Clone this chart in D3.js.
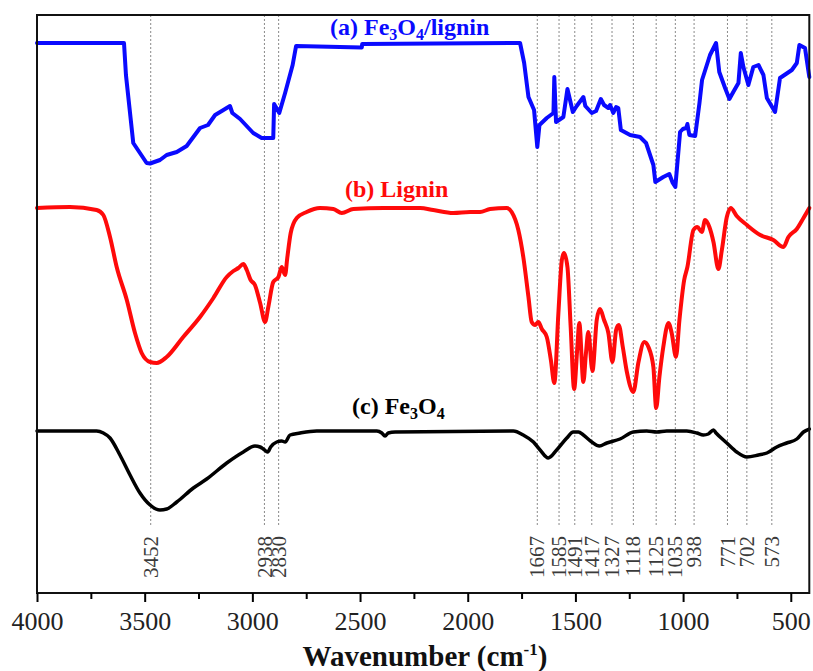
<!DOCTYPE html>
<html>
<head>
<meta charset="utf-8">
<script src="https://cdnjs.cloudflare.com/ajax/libs/d3/7.8.5/d3.min.js"></script>
<style>
  body { margin: 0; background: #fff; }
  text { font-family: "Liberation Serif", "Times New Roman", serif; }
</style>
</head>
<body>
<div id="FTIRChart"></div>
<script>

 // wavenumber (cm-1) of each read point, and transmittance in arbitrary units (offset per curve)
 var waveA = [4000, 3596, 3587, 3553, 3491, 3475, 3429, 3398, 3351, 3305, 3243, 3206, 3173, 3142, 3104, 3093, 3057, 2996, 2957, 2903,
     2899, 2875, 2848, 2813, 2797, 2492, 2490, 1757, 1738, 1718, 1692, 1677, 1667, 1633, 1602, 1598, 1590, 1556, 1537, 1512,
     1494, 1463, 1454, 1424, 1404, 1382, 1367, 1347, 1339, 1324, 1311, 1301, 1289, 1246, 1200, 1172, 1138, 1129, 1092, 1064,
     1048, 1036, 1014, 1001, 986, 980, 971, 944, 924, 912, 875, 847, 832, 805, 785, 767, 743, 732, 720, 697,
     674, 650, 627, 611, 573, 550, 495, 472, 460, 434, 414];
 var transA = [550, 550, 518, 450, 430, 429.5, 433, 438, 441, 447, 465, 468, 478, 482, 487, 480, 474, 460, 455, 455,
     489, 480, 500, 528, 547, 545.5, 549, 550, 530, 496, 483, 446, 468, 475, 480, 516, 471, 476, 504, 481,
     487, 496, 487, 480, 482, 494, 488, 485, 488, 480, 486, 485, 463, 458, 456, 450, 428, 411, 416, 419,
     410, 406, 461, 464, 465, 469, 458, 457, 490, 513, 538, 550, 521, 505, 494, 501, 510, 540, 526, 508,
     526, 528, 518, 495, 481, 515, 523, 530, 548, 545, 516];

 var waveB = [4000, 3847, 3723, 3692, 3661, 3630, 3583, 3545, 3514, 3475, 3444, 3398, 3321, 3243, 3181, 3119, 3088, 3065, 3042, 3026,
     3008, 2988, 2964, 2941, 2926, 2903, 2879, 2864, 2848, 2838, 2822, 2794, 2748, 2686, 2624, 2585, 2531, 2392, 2221, 2160,
     2067, 1989, 1943, 1896, 1819, 1796, 1765, 1742, 1718, 1703, 1687, 1672, 1656, 1633, 1614, 1598, 1579, 1563, 1553, 1537,
     1522, 1506, 1491, 1482, 1463, 1451, 1440, 1421, 1401, 1386, 1367, 1347, 1328, 1311, 1299, 1280, 1261, 1231, 1208, 1180,
     1161, 1138, 1125, 1110, 1092, 1068, 1053, 1033, 1017, 995, 980, 952, 934, 913, 898, 878, 859, 836, 820, 797,
     779, 751, 704, 642, 581, 534, 511, 472, 441, 414];
 var transB = [385, 386, 383, 378, 356, 326, 293, 260, 240, 231, 230, 236, 256, 276, 295, 316, 322, 325, 329, 323,
     313, 308, 290, 271, 286, 311, 316, 326, 318, 335, 360, 375, 381, 385, 384, 380, 384, 385, 385, 383,
     380, 381, 381, 384, 385, 381, 363, 336, 296, 271, 268, 271, 264, 256, 233, 210, 280, 333, 340, 326,
     266, 204, 246, 270, 211, 240, 261, 222, 273, 284, 273, 260, 231, 263, 268, 246, 221, 201, 230, 251,
     246, 226, 185, 216, 246, 270, 260, 236, 273, 313, 326, 363, 366, 361, 373, 366, 351, 324, 343, 376,
     385, 377, 368, 358, 353, 346, 356, 364, 375, 385];

 var waveC = [4000, 3723, 3692, 3661, 3615, 3568, 3522, 3475, 3429, 3398, 3351, 3274, 3212, 3119, 3042, 2988, 2964, 2949, 2929, 2915,
     2887, 2864, 2848, 2825, 2779, 2701, 2422, 2399, 2384, 2369, 2337, 1788, 1742, 1695, 1664, 1626, 1587, 1540, 1510, 1486,
     1463, 1424, 1389, 1354, 1293, 1231, 1169, 1122, 1076, 983, 936, 906, 883, 859, 847, 797, 751, 704, 650, 611,
     565, 519, 472, 441, 414];
 var transC = [162, 162, 160, 155, 138, 118, 100, 88, 83, 84, 91, 105, 114, 130, 141, 147, 146, 144, 141, 146,
     151, 152, 151, 158, 160, 162, 162, 160, 157, 160, 161, 162, 158, 151, 143, 135, 143, 155, 161, 161,
     158, 151, 147, 150, 154, 161, 162, 161, 162, 162, 160, 158, 159, 163, 160, 150, 141, 136, 138, 140,
     146, 150, 154, 161, 164];

 // marked bands: where the dotted line sits, and the number printed under it
 var bandPos = [3472, 2944, 2878, 1677, 1576, 1503, 1424, 1330, 1231, 1125, 1036, 949, 794, 704, 588];
 var bandLabels = ["3452", "2938", "2830", "1667", "1585", "1491", "1417", "1327", "1118", "1125", "1035", "938", "771", "702", "573"];

 var majorTicks = [4000, 3500, 3000, 2500, 2000, 1500, 1000, 500];
 var minorTicks = [3750, 3250, 2750, 2250, 1750, 1250, 750];


 function zip(w, t) {
     return w.map(function(d, i) { return { w: d, t: t[i] }; });
 }

 var series = [
     { name: "a", data: zip(waveA, transA), colour: "#0a0aff", width: 4, curve: d3.curveLinear },
     { name: "b", data: zip(waveB, transB), colour: "#ff0a0a", width: 4, curve: d3.curveMonotoneX },
     { name: "c", data: zip(waveC, transC), colour: "#000000", width: 3.5, curve: d3.curveMonotoneX }
 ];


 var width = 813,
     height = 671,
     margin = { top: 15, right: 3.7, bottom: 78, left: 37 };

 var innerW = width - margin.left - margin.right,
     innerH = height - margin.top - margin.bottom;

 // ===========================================================================================
 // scales
 var x = d3.scaleLinear().domain([4000, 414]).range([0, innerW]);
 var y = d3.scaleLinear().domain([0, 578]).range([innerH, 0]);
 // ===========================================================================================

 var svg = d3.select('#FTIRChart').append('svg')
     .attr('width', width)
     .attr('height', height)
     .append('g')
     .attr('transform', 'translate(' + margin.left + ',' + margin.top + ')');

 // ===========================================================================================
 // dotted band lines and their rotated numbers
 svg.append('g').attr('class', 'bands')
     .selectAll('line')
     .data(bandPos)
     .enter().append('line')
     .attr('x1', function(d) { return x(d); })
     .attr('x2', function(d) { return x(d); })
     .attr('y1', 0)
     .attr('y2', 511)
     .attr('stroke', '#8a8a8a')
     .attr('stroke-width', 1)
     .attr('stroke-dasharray', '2,2');

 svg.append('g').attr('class', 'bandLabels')
     .selectAll('text')
     .data(bandPos)
     .enter().append('text')
     .attr('transform', function(d) { return 'translate(' + x(d) + ',521) rotate(-90)'; })
     .attr('dy', '0.34em')
     .style('text-anchor', 'end')
     .style('font-size', '21px')
     .style('fill', '#3a3a3a')
     .text(function(d, i) { return bandLabels[i]; });
 // ===========================================================================================

 // ===========================================================================================
 // spectra
 svg.append('g').attr('class', 'lines')
     .selectAll('path')
     .data(series)
     .enter().append('path')
     .attr('fill', 'none')
     .attr('stroke', function(d) { return d.colour; })
     .attr('stroke-width', function(d) { return d.width; })
     .attr('stroke-linejoin', 'round')
     .attr('stroke-linecap', 'round')
     .attr('d', function(d) {
         return d3.line()
             .x(function(p) { return x(p.w); })
             .y(function(p) { return y(p.t); })
             .curve(d.curve)(d.data);
     });
 // ===========================================================================================

 // ===========================================================================================
 // frame and x axis
 svg.append('rect')
     .attr('width', innerW)
     .attr('height', innerH)
     .attr('fill', 'none')
     .attr('stroke', '#111')
     .attr('stroke-width', 2);

 var axis = svg.append('g')
     .attr('transform', 'translate(0,' + innerH + ')')
     .call(d3.axisBottom(x).tickValues(majorTicks).tickSize(9).tickPadding(10).tickFormat(d3.format('d')));
 axis.select('.domain').remove();
 axis.selectAll('line').attr('stroke-width', 2);
 axis.selectAll('text').style('font-size', '26px').style('font-family', '"Liberation Serif", serif').style('fill', '#222');

 var minor = svg.append('g')
     .attr('transform', 'translate(0,' + innerH + ')')
     .call(d3.axisBottom(x).tickValues(minorTicks).tickSize(6).tickFormat(''));
 minor.select('.domain').remove();
 minor.selectAll('line').attr('stroke-width', 2);

 var title = svg.append('text')
     .attr('x', 388)
     .attr('y', 651)
     .style('text-anchor', 'middle')
     .style('font-size', '29px')
     .style('font-weight', 'bold')
     .style('fill', '#111');
 title.append('tspan').text('Wavenumber (cm');
 title.append('tspan').attr('dy', -11).style('font-size', '17px').text('-1');
 title.append('tspan').attr('dy', 11).text(')');
 // ===========================================================================================

 // ===========================================================================================
 // curve names, Fe3O4 with subscripts
 function addName(xPos, yPos, colour, parts) {
     var t = svg.append('text')
         .attr('x', xPos)
         .attr('y', yPos)
         .style('font-size', '24px')
         .style('font-weight', 'bold')
         .style('fill', colour);
     parts.forEach(function(p) {
         if (p.sub) t.append('tspan').attr('dy', 5).style('font-size', '16px').text(p.s);
         else t.append('tspan').attr('dy', p.back ? -5 : 0).text(p.s);
     });
 }

 addName(293, 20, '#0a0aff', [{ s: '(a) Fe' }, { s: '3', sub: true }, { s: 'O', back: true }, { s: '4', sub: true }, { s: '/lignin', back: true }]);
 addName(308, 182, '#ff0a0a', [{ s: '(b) Lignin' }]);
 addName(315, 399, '#000', [{ s: '(c) Fe' }, { s: '3', sub: true }, { s: 'O', back: true }, { s: '4', sub: true }]);
 // ===========================================================================================

</script>
</body>
</html>
